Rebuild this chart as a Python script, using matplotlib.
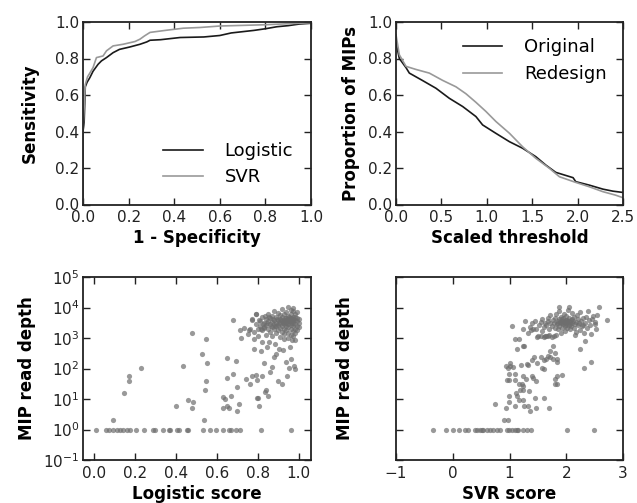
import numpy as np
import matplotlib
matplotlib.use("Agg")
import matplotlib.pyplot as plt

# ---------------- ROC data ----------------
roc_log_fpr = [0.0, 0.0, 0.005, 0.01, 0.018, 0.03, 0.044, 0.066, 0.081, 0.103, 0.132, 0.16, 0.205, 0.25,
               0.28, 0.294, 0.34, 0.426, 0.53, 0.6, 0.65, 0.7, 0.75, 0.8, 0.85, 0.9, 0.95, 1.0]
roc_log_tpr = [0.0, 0.4, 0.45, 0.645, 0.67, 0.695, 0.73, 0.768, 0.787, 0.805, 0.832, 0.85, 0.863, 0.878,
               0.891, 0.9, 0.903, 0.915, 0.918, 0.926, 0.94, 0.947, 0.954, 0.963, 0.974, 0.98, 0.989, 0.993]
roc_svr_fpr = [0.0, 0.0, 0.007, 0.01, 0.02, 0.03, 0.044, 0.059, 0.088, 0.103, 0.132, 0.176, 0.228, 0.25,
               0.27, 0.294, 0.367, 0.44, 0.514, 0.6, 0.8, 1.0]
roc_svr_tpr = [0.0, 0.4, 0.585, 0.657, 0.70, 0.72, 0.75, 0.805, 0.814, 0.842, 0.869, 0.878, 0.893, 0.906,
               0.924, 0.943, 0.955, 0.966, 0.97, 0.978, 0.985, 0.996]

# ---------------- threshold curves ----------------
orig_thr = [0.0, 0.037, 0.11, 0.147, 0.29, 0.44, 0.587, 0.734, 0.88, 0.954, 1.10, 1.25, 1.395, 1.54,
            1.65, 1.76, 1.95, 1.98, 2.13, 2.28, 2.39, 2.5]
orig_prop = [0.885, 0.80, 0.75, 0.72, 0.68, 0.637, 0.582, 0.537, 0.482, 0.436, 0.39, 0.344, 0.308, 0.262,
             0.216, 0.176, 0.147, 0.125, 0.106, 0.084, 0.073, 0.066]
redes_thr = [0.0, 0.037, 0.11, 0.22, 0.367, 0.514, 0.66, 0.77, 0.88, 0.99, 1.10, 1.25, 1.395, 1.54,
             1.69, 1.80, 1.98, 2.13, 2.28, 2.42, 2.5]
redes_prop = [0.93, 0.82, 0.757, 0.74, 0.72, 0.68, 0.645, 0.607, 0.56, 0.51, 0.455, 0.39, 0.316, 0.253,
              0.198, 0.152, 0.121, 0.097, 0.07, 0.051, 0.037]

# ---------------- scatter: logistic score vs read depth ----------------
logistic_ones_x = [0.01, 0.057, 0.075, 0.093, 0.11, 0.127, 0.143, 0.16, 0.175, 0.204, 0.242, 0.289, 0.3,
                   0.337, 0.366, 0.373, 0.404, 0.415, 0.455, 0.46, 0.533, 0.566, 0.595, 0.628, 0.66,
                   0.668, 0.693, 0.712, 0.815, 0.96]
logistic_other = [
    (0.094, 2), (0.147, 16), (0.173, 40), (0.173, 55), (0.229, 105), (0.433, 125), (0.477, 1450),
    (0.40, 6), (0.461, 9), (0.484, 8), (0.48, 5), (0.535, 2), (0.527, 310), (0.548, 900), (0.554, 150),
    (0.545, 40), (0.543, 19), (0.628, 12), (0.641, 10), (0.631, 5), (0.649, 6), (0.657, 5), (0.65, 50),
    (0.668, 13), (0.678, 66), (0.65, 215), (0.693, 175), (0.699, 25), (0.696, 4), (0.709, 7),
    (0.68, 4000), (0.711, 1800), (0.72, 1000), (0.733, 2200), (0.741, 45), (0.756, 1800), (0.754, 1400),
    (0.764, 32), (0.774, 4000), (0.774, 55), (0.78, 900), (0.783, 420), (0.79, 60), (0.79, 6300),
    (0.795, 43), (0.795, 11), (0.80, 11), (0.806, 6), (0.817, 380), (0.822, 750), (0.822, 57),
    (0.83, 150), (0.83, 2200), (0.834, 17), (0.842, 19), (0.846, 500), (0.85, 13), (0.854, 720),
    (0.862, 75), (0.87, 115), (0.878, 230), (0.883, 620), (0.891, 310), (0.90, 40), (0.904, 420),
    (0.916, 30), (0.925, 400), (0.936, 160), (0.928, 900), (0.945, 55), (0.953, 106), (0.958, 500),
    (0.963, 210), (0.968, 870), (0.975, 120), (0.98, 100),
]
logistic_cluster = [
    (0.76, 2000), (0.77, 4170), (0.78, 1580), (0.79, 2820), (0.79, 6030), (0.80, 2000), (0.80, 1120),
    (0.81, 2510), (0.81, 3550), (0.82, 1780), (0.82, 4790), (0.83, 2240), (0.83, 3160), (0.84, 1260),
    (0.84, 2630), (0.84, 4170), (0.85, 2000), (0.85, 3550), (0.85, 6310), (0.86, 1580), (0.86, 2820),
    (0.86, 4470), (0.87, 2240), (0.87, 3310), (0.87, 5250), (0.87, 1120), (0.88, 1910), (0.88, 2820),
    (0.88, 3980), (0.88, 7940), (0.89, 1410), (0.89, 2400), (0.89, 3160), (0.89, 5010), (0.90, 1780),
    (0.90, 2630), (0.90, 3800), (0.90, 6610), (0.91, 2090), (0.91, 3020), (0.91, 4170), (0.91, 5620),
    (0.91, 1050), (0.92, 1580), (0.92, 2510), (0.92, 3550), (0.92, 4790), (0.92, 8910), (0.93, 2000),
    (0.93, 2820), (0.93, 3310), (0.93, 3980), (0.93, 6030), (0.93, 1320), (0.94, 1780), (0.94, 2400),
    (0.94, 3020), (0.94, 3800), (0.94, 4570), (0.94, 7080), (0.95, 1510), (0.95, 2240), (0.95, 2820),
    (0.95, 3550), (0.95, 4170), (0.95, 5250), (0.95, 10500), (0.95, 1000), (0.96, 1910), (0.96, 2630),
    (0.96, 3160), (0.96, 3800), (0.96, 4470), (0.96, 6310), (0.96, 8320), (0.96, 1260), (0.97, 1660),
    (0.97, 2400), (0.97, 3020), (0.97, 3550), (0.97, 4170), (0.97, 5010), (0.97, 7590), (0.97, 10000),
    (0.97, 1120), (0.98, 2000), (0.98, 2820), (0.98, 3800), (0.98, 4790), (0.98, 6030), (0.98, 1410),
    (0.98, 890), (0.99, 2510), (0.99, 3550), (0.99, 4470), (0.99, 1780), (0.99, 7080), (1.00, 3160),
    (1.00, 4170), (1.00, 2240), (0.955, 3980), (0.958, 4370), (0.962, 3630), (0.952, 4790),
    (0.965, 4170), (0.945, 3310), (0.935, 4570), (0.925, 3020), (0.915, 3800), (0.905, 3160),
    (0.895, 4170), (0.885, 2510), (0.875, 4170), (0.865, 2400), (0.855, 4790), (0.845, 3160),
    (0.835, 5250), (0.825, 2820), (0.815, 2000), (0.805, 3980),
]

# ---------------- scatter: SVR score vs read depth ----------------
svr_ones_x = [-0.342, -0.119, 0.0, 0.116, 0.222, 0.269, 0.392, 0.421, 0.48, 0.51, 0.539, 0.598, 0.656,
              0.715, 0.774, 0.833, 0.95, 0.997, 1.038, 1.097, 1.126, 1.156, 1.244, 1.302, 1.373,
              2.019, 2.489]
svr_other = [
    (0.897, 2), (0.974, 2), (0.75, 7), (0.944, 5), (0.985, 8), (1.103, 6), (1.173, 9.5), (1.244, 9.5),
    (1.256, 6), (1.326, 6), (1.355, 4), (1.338, 18), (1.244, 19), (1.185, 19), (1.115, 16), (1.126, 13),
    (1.455, 11), (1.467, 5), (1.614, 11), (1.70, 5), (0.985, 13), (1.244, 26), (1.22, 30), (1.16, 30),
    (0.956, 41), (0.997, 41), (1.103, 41), (0.997, 68), (1.103, 68), (1.232, 55), (1.29, 45),
    (1.39, 55), (1.42, 50), (1.46, 40), (1.57, 105), (1.60, 100), (1.48, 150), (1.31, 140), (1.21, 130),
    (1.00, 120), (1.796, 45), (1.796, 32), (1.837, 32), (1.83, 55), (1.925, 60), (2.32, 105),
    (2.44, 160), (1.83, 160), (0.93, 120), (0.98, 107), (1.01, 150), (1.07, 112), (1.33, 126),
    (1.40, 185), (1.55, 240), (1.43, 230), (1.61, 185), (1.68, 250), (1.71, 370), (1.77, 210),
    (1.83, 210), (1.81, 320), (1.71, 230), (1.64, 210), (1.13, 450), (1.23, 540), (1.25, 540),
    (2.24, 430), (1.04, 2400), (1.09, 950), (1.17, 930), (1.76, 550), (2.33, 780), (2.72, 4000),
    (2.57, 10500), (1.88, 10500), (2.05, 10200), (2.47, 5250), (2.5, 2950),
]
svr_cluster = [
    (1.24, 2040), (1.27, 3550), (1.33, 1410), (1.36, 2290), (1.40, 3000), (1.42, 2000), (1.45, 3630),
    (1.48, 1070), (1.50, 1150), (1.52, 2630), (1.55, 1200), (1.55, 3300), (1.58, 4170), (1.60, 1100),
    (1.60, 2240), (1.62, 3000), (1.65, 1150), (1.65, 2600), (1.67, 4500), (1.68, 3500), (1.70, 1250),
    (1.70, 2000), (1.72, 3000), (1.72, 5600), (1.75, 1100), (1.75, 2500), (1.76, 3900), (1.78, 1200),
    (1.78, 3200), (1.80, 2200), (1.80, 4600), (1.82, 1250), (1.82, 6300), (1.84, 2800), (1.85, 3600),
    (1.86, 1900), (1.87, 4200), (1.88, 2500), (1.88, 7400), (1.90, 1500), (1.90, 3100), (1.91, 5000),
    (1.92, 2100), (1.93, 3700), (1.94, 2800), (1.95, 4400), (1.96, 6000), (1.97, 1700), (1.97, 3300),
    (1.98, 2400), (1.99, 4000), (2.00, 3000), (2.00, 5400), (2.01, 2200), (2.02, 3600), (2.03, 8300),
    (2.04, 2700), (2.05, 4600), (2.06, 3300), (2.07, 1900), (2.08, 4000), (2.09, 2500), (2.10, 3100),
    (2.10, 6500), (2.12, 3700), (2.13, 2200), (2.14, 4800), (2.15, 2900), (2.17, 3400), (2.18, 1600),
    (2.19, 5600), (2.20, 2600), (2.21, 4100), (2.22, 3000), (2.24, 1800), (2.25, 6900), (2.26, 3600),
    (2.28, 2400), (2.30, 4400), (2.31, 1500), (2.33, 3200), (2.35, 5000), (2.37, 2200), (2.38, 7600),
    (2.40, 3800), (2.42, 2700), (2.44, 1400), (2.46, 4200), (2.50, 3300), (2.53, 2000), (2.55, 5800),
    (1.93, 3200), (1.96, 3500), (2.01, 3900), (1.89, 3400), (1.99, 2600), (2.06, 2900), (2.11, 4300),
    (1.84, 3200), (1.92, 4100), (2.03, 3400), (1.38, 1800), (1.46, 1900), (1.57, 1700), (1.63, 1150),
    (1.68, 1150), (2.15, 1300), (2.29, 2700),
]

# ---------------- plotting ----------------
plt.rcParams['font.family'] = ['DejaVu Sans']
TICK_FS = 11
LABEL_FS = 12
LEG_FS = 13
DARK = '#1a1a1a'
GREY = '#999999'

fig = plt.figure(figsize=(6.37, 5.03), dpi=100)
W, H = 637.0, 503.0


def add_ax(l, r, t, b):
    return fig.add_axes([l / W, 1 - b / H, (r - l) / W, (b - t) / H])


ax1 = add_ax(83, 311, 22, 204.5)
ax2 = add_ax(396, 623, 22, 204.5)
ax3 = add_ax(83, 311, 277, 460)
ax4 = add_ax(396, 623, 277, 460)


def style(ax, minor=False):
    for s in ax.spines.values():
        s.set_linewidth(1.3)
        s.set_color('#222222')
    ax.tick_params(which='major', direction='in', length=5, width=1, top=True, right=True,
                   labelsize=TICK_FS, colors='#222222')
    ax.tick_params(axis='x', which='major', pad=4)
    ax.tick_params(axis='y', which='major', pad=2.5)
    if minor:
        ax.tick_params(which='minor', direction='in', length=2.5, width=0.8, top=False, right=True,
                       left=True, bottom=False)
    else:
        ax.minorticks_off()


# ROC
ax1.plot(roc_log_fpr, roc_log_tpr, color=DARK, lw=1.2, label='Logistic')
ax1.plot(roc_svr_fpr, roc_svr_tpr, color=GREY, lw=1.2, label='SVR')
ax1.set_xlim(0, 1)
ax1.set_ylim(0, 1)
ax1.set_xticks(np.arange(0, 1.01, 0.2))
ax1.set_yticks(np.arange(0, 1.01, 0.2))
ax1.set_xlabel('1 - Specificity', fontsize=LABEL_FS, fontweight='bold', labelpad=3)
ax1.set_ylabel('Sensitivity', fontsize=LABEL_FS, fontweight='bold', labelpad=12)
style(ax1)
ax1.legend(loc='lower right', frameon=False, fontsize=LEG_FS, handlelength=2.2,
           handletextpad=1.2, borderaxespad=0.6, labelspacing=0.45)

# Threshold curves
ax2.plot(orig_thr, orig_prop, color=DARK, lw=1.2, label='Original')
ax2.plot(redes_thr, redes_prop, color=GREY, lw=1.2, label='Redesign')
ax2.set_xlim(0, 2.5)
ax2.set_ylim(0, 1)
ax2.set_xticks(np.arange(0, 2.51, 0.5))
ax2.set_yticks(np.arange(0, 1.01, 0.2))
ax2.set_xlabel('Scaled threshold', fontsize=LABEL_FS, fontweight='bold', labelpad=3)
ax2.set_ylabel('Proportion of MIPs', fontsize=LABEL_FS, fontweight='bold', labelpad=6)
style(ax2)
ax2.legend(loc='upper right', frameon=False, fontsize=LEG_FS, handlelength=2.2,
           handletextpad=1.2, borderaxespad=0.5, labelspacing=0.5)

SC = dict(s=14, color='#6e6e6e', alpha=0.7, linewidths=0)

# Logistic scatter
lx = list(logistic_ones_x) + [p[0] for p in logistic_other] + [p[0] for p in logistic_cluster]
ly = [1] * len(logistic_ones_x) + [p[1] for p in logistic_other] + [p[1] for p in logistic_cluster]
ax3.scatter(lx, ly, **SC)
ax3.set_yscale('log')
ax3.set_xlim(-0.054, 1.06)
ax3.set_ylim(0.1, 1e5)
ax3.set_xticks(np.arange(0, 1.01, 0.2))
ax3.set_yticks([1e-1, 1, 10, 100, 1e3, 1e4, 1e5])
ax3.set_xlabel('Logistic score', fontsize=LABEL_FS, fontweight='bold', labelpad=3)
ax3.set_ylabel('MIP read depth', fontsize=LABEL_FS, fontweight='bold', labelpad=5)
style(ax3, minor=True)

# SVR scatter
sx = list(svr_ones_x) + [p[0] for p in svr_other] + [p[0] for p in svr_cluster]
sy = [1] * len(svr_ones_x) + [p[1] for p in svr_other] + [p[1] for p in svr_cluster]
ax4.scatter(sx, sy, **SC)
ax4.set_yscale('log')
ax4.set_xlim(-1, 3)
ax4.set_ylim(0.1, 1e5)
ax4.set_xticks([-1, 0, 1, 2, 3])
ax4.set_yticks([1e-1, 1, 10, 100, 1e3, 1e4, 1e5])
ax4.set_yticklabels([])
ax4.set_xlabel('SVR score', fontsize=LABEL_FS, fontweight='bold', labelpad=3)
ax4.set_ylabel('MIP read depth', fontsize=LABEL_FS, fontweight='bold', labelpad=30)
style(ax4, minor=True)
ax4.tick_params(axis='y', which='both', labelleft=False)

fig.savefig('out.png', dpi=100)
